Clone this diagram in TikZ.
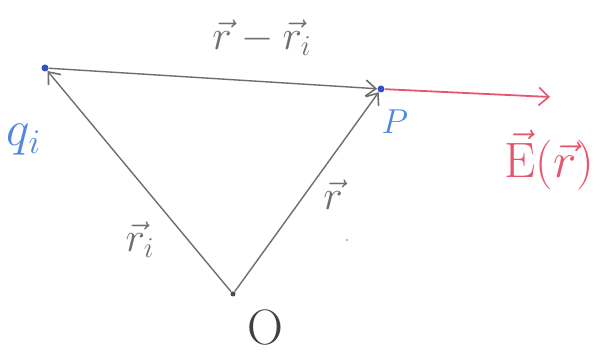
\documentclass[tikz,border=0pt]{standalone}
\usetikzlibrary{arrows.meta}
\definecolor{penblue}{RGB}{80,135,225}
\definecolor{dotblue}{RGB}{50,80,200}
\definecolor{pengrey}{RGB}{110,110,110}
\definecolor{penred}{RGB}{232,85,110}
\tikzset{
  vec/.style={draw=pengrey, line width=0.7pt, -{Straight Barb[length=5pt,width=8pt,line width=0.8pt]}},
  evec/.style={draw=penred, line width=0.9pt, -{Straight Barb[length=5pt,width=9pt,line width=0.8pt]}},
  pt/.style={circle, fill=dotblue, inner sep=0pt, minimum size=3.5pt},
  lbl/.style={inner sep=0pt},
}
\begin{document}
\begin{tikzpicture}[x=0.5pt,y=-0.5pt]
\useasboundingbox (0,0) rectangle (606,356);
\fill[white] (0,0) rectangle (606,356);
% points
\node[pt] (q) at (45,68) {};
\node[pt] (P) at (381,89) {};
\node[circle, fill=black!70, inner sep=0pt, minimum size=2.5pt] (O) at (233,294) {};
\coordinate (Eend) at (550,97);
% vectors
\draw[vec] (O) -- (q);
\draw[vec] (O) -- (P);
\draw[vec] (q) -- (P);
\draw[evec] (P) -- (Eend);
% labels
\node[lbl, text=pengrey] (lrr) at (262,38) {\fontsize{21}{25}\selectfont$\vec r-\vec r_i$};
\node[lbl, text=penblue] (lq) at (24,140) {\fontsize{24}{28}\selectfont$q_i$};
\node[lbl, text=penblue] (lP) at (395,122) {\fontsize{18}{22}\selectfont$P$};
\node[lbl, text=penred, anchor=west] (lE) at (504,160) {\fontsize{32}{36}\selectfont$\vec{\mathrm{E}}(\vec r)$};
\node[lbl, text=pengrey] (lri) at (140,240) {\fontsize{20}{24}\selectfont$\vec r_i$};
\node[lbl, text=pengrey] (lr) at (333,195) {\fontsize{20}{24}\selectfont$\vec r$};
\node[lbl, text=black!75] (lO) at (265,328) {\fontsize{30}{34}\selectfont$\mathrm{O}$};
\fill[pengrey] (347,240) circle (0.8);
\end{tikzpicture}
\end{document}
